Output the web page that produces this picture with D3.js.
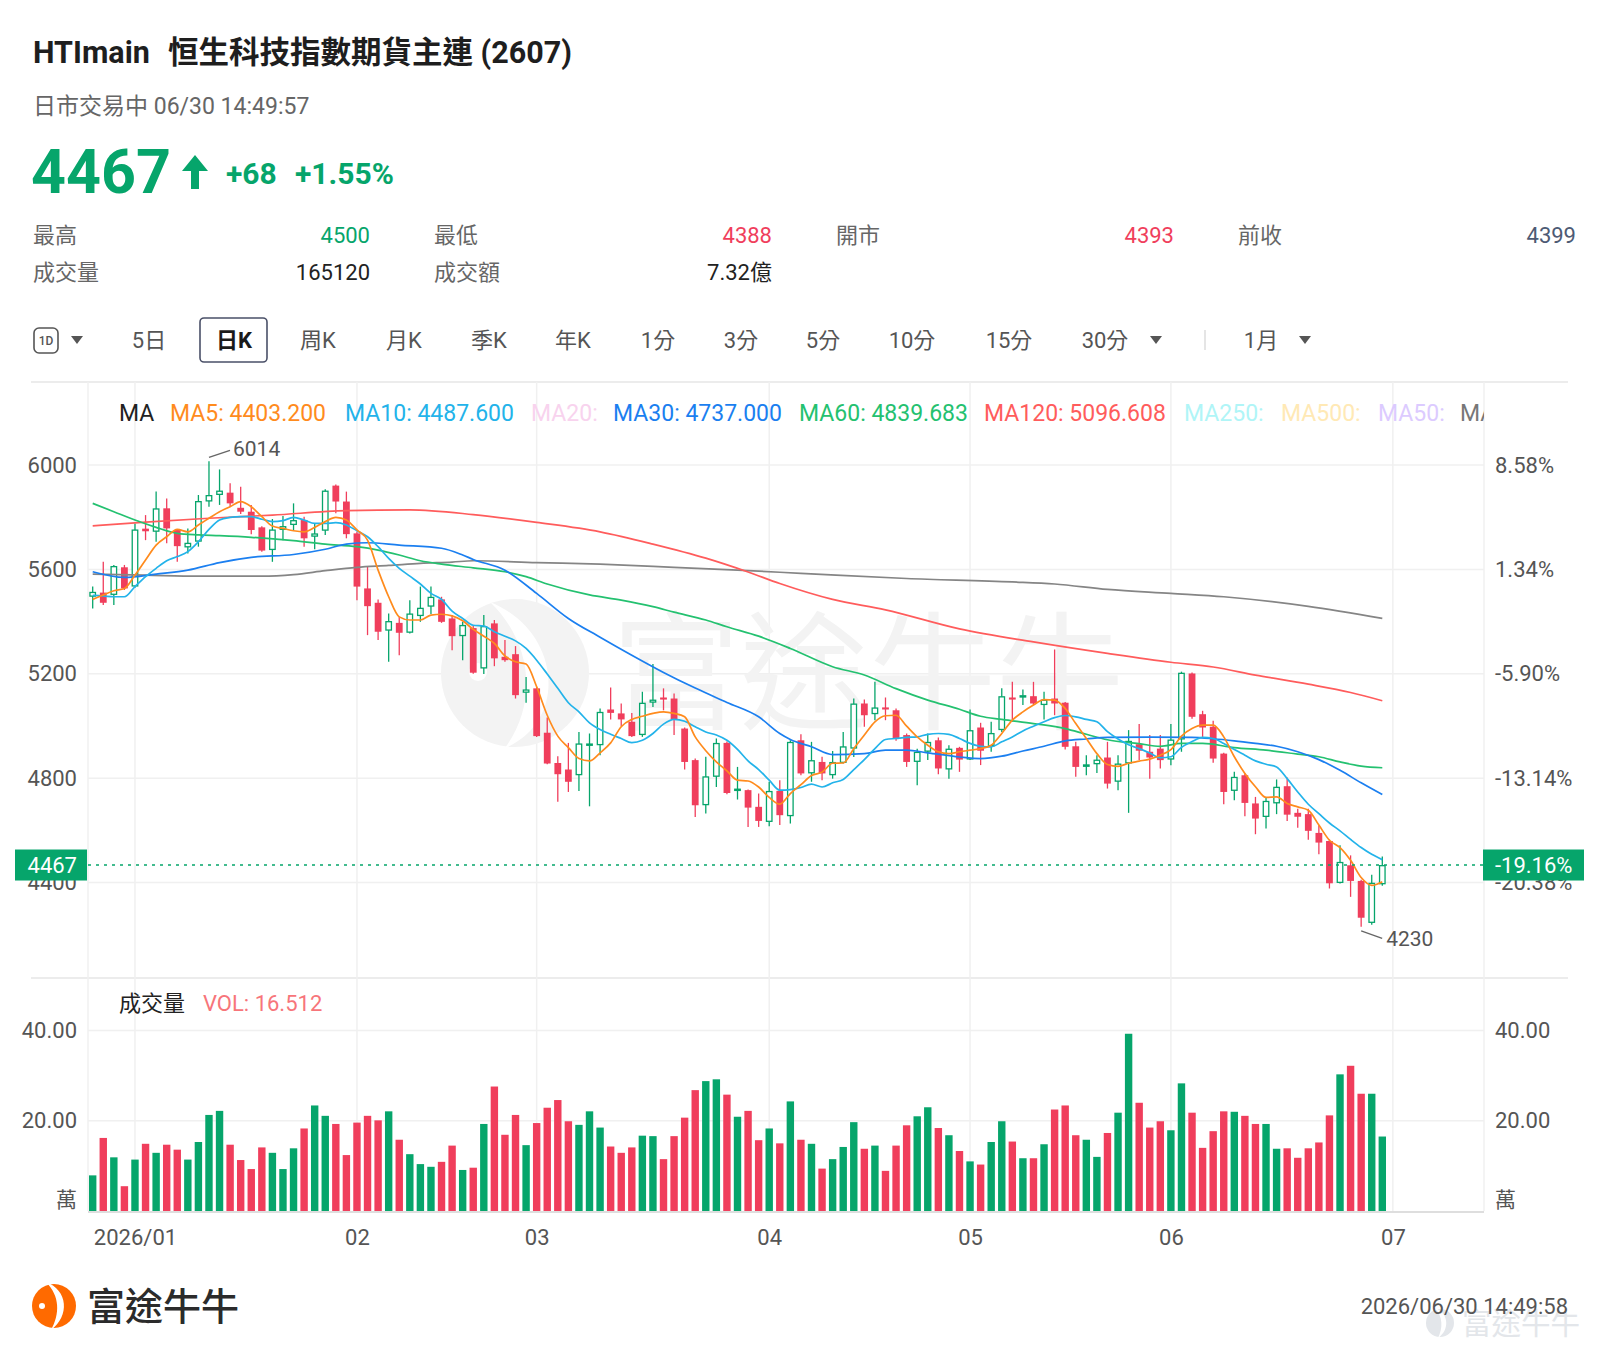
<!DOCTYPE html>
<html><head><meta charset="utf-8">
<script src="https://cdn.jsdelivr.net/npm/d3@7"></script>
<style>
html,body{margin:0;padding:0;background:#fff;}
svg{display:block;}
</style></head><body>
<svg id="c" width="1600" height="1358"></svg>
<script>
// ---------------- DATA ----------------
const monthIdx = [4, 25, 42, 64, 83, 102, 123];
const monthLabels = ["2026/01", "02", "03", "04", "05", "06", "07"];
const priceTicks = [4400, 4800, 5200, 5600, 6000];
const priceTickLabels = ["4400", "4800", "5200", "5600", "6000"];
const pctTickLabels = ["-20.38%", "-13.14%", "-5.90%", "1.34%", "8.58%"];
const volTicks = [20, 40];
const volTickLabels = ["20.00", "40.00"];

const opens = [5495,5511,5502,5608,5534,5756,5744,5834,5751,5684, 5706,5860,5885,5894,5836,5821,5761,5674,5751,5770,
 5789,5725,5748,5921,5860,5738,5527,5472,5365,5395, 5357,5421,5457,5485,5412,5344,5375,5220,5393,5265,
 5275,5127,5144,4974,4858,4833,4811,4925,4926,5063, 5048,5016,4965,5089,5109,5105,4990,4869,4696,4805,
 4935,4751,4754,4690,4632,4751,4654,4945,4818,4862, 4811,4858,4913,5086,5045,5071,5060,4965,4862,4901,
 4945,4833,4916,4871,4994,4922,4984,5109,5109,5114, 5080,5105,5089,4922,4843,4853,4879,4786,4856,4930,
 4901,4913,4871,4948,5201,5045,4997,4894,4751,4811, 4703,4651,4703,4769,4667,4662,4590,4559,4398,4466,
 4406,4245,4393];
const highs = [5534,5629,5617,5617,5776,5808,5898,5872,5755,5757, 5885,6014,5983,5930,5917,5847,5765,5793,5805,5853,
 5802,5776,5907,5925,5898,5744,5610,5485,5431,5418, 5482,5534,5534,5495,5425,5399,5385,5425,5406,5329,
 5306,5188,5150,5032,4884,4935,4977,4971,5067,5147, 5086,5050,5131,5237,5144,5124,4994,4875,4882,4952,
 4940,4843,4756,4741,4786,4792,4945,4968,4939,4882, 4904,4977,5105,5101,5169,5109,5067,4971,4913,4971,
 4956,4926,4920,5063,5012,5016,5144,5169,5140,5169, 5131,5293,5092,4939,4888,4888,4939,4888,4984,5007,
 4965,4965,5007,5208,5205,5058,5020,4897,4824,4820, 4728,4728,4795,4802,4683,4683,4619,4565,4543,4504,
 4411,4430,4500];
const lows = [5450,5463,5463,5521,5530,5712,5706,5700,5629,5661, 5687,5840,5847,5840,5812,5735,5668,5629,5712,5751,
 5687,5677,5732,5815,5719,5482,5348,5329,5246,5271, 5354,5399,5429,5395,5290,5252,5200,5199,5229,5246,
 5105,5089,4958,4853,4709,4747,4751,4692,4888,5025, 4999,4958,4958,5073,5060,4965,4833,4651,4664,4766,
 4738,4718,4613,4613,4616,4620,4626,4811,4786,4792, 4798,4856,4881,4997,5022,5022,4943,4843,4773,4869,
 4815,4798,4824,4869,4850,4901,4977,5016,5080,5080, 5025,5041,4910,4805,4811,4820,4760,4754,4667,4869,
 4798,4837,4849,4901,5028,4958,4859,4700,4715,4654, 4585,4607,4662,4636,4610,4564,4508,4377,4396,4345,
 4230,4238,4388];
const closes = [5514,5472,5613,5527,5753,5746,5834,5757,5689,5702, 5862,5885,5902,5853,5821,5751,5672,5753,5766,5789,
 5719,5738,5902,5860,5735,5534,5459,5361,5402,5357, 5431,5453,5495,5399,5344,5387,5204,5383,5259,5252,
 5118,5140,4961,4856,4815,4786,4933,4933,5054,5050, 5025,4961,5089,5101,5101,5025,4862,4696,4807,4935,
 4743,4760,4687,4636,4751,4658,4939,4818,4869,4818, 4862,4922,5086,5041,5071,5063,4952,4862,4901,4939,
 4837,4913,4871,4984,4905,4973,5114,5101,5118,5086, 5101,5086,4920,4843,4853,4871,4779,4856,4943,4905,
 4879,4869,4948,5204,5035,4994,4875,4747,4805,4705, 4645,4713,4767,4660,4652,4598,4553,4397,4479,4406,
 4265,4399,4467];
const volumes = [7.9,16.2,11.9,5.5,11.4,14.9,12.9,14.7,13.6,11.4, 15.3,21.3,22.2,14.7,11.3,9.3,14.1,12.9,9.3,13.9,
 18.3,23.4,21.1,19.3,12.4,19.6,21.1,20.1,22.1,15.8, 12.6,10.4,9.8,10.9,14.5,9.1,9.6,19.3,27.6,16.9,
 21.3,14.6,19.5,22.9,24.6,19.9,19.1,22.1,18.5,14.3, 12.9,14.1,16.7,16.6,11.5,16.6,20.7,26.8,28.8,29.2,
 25.8,20.9,22.2,15.7,18.3,15.0,24.3,15.8,14.9,9.4, 11.5,14.2,19.7,13.8,14.5,8.9,14.5,19.0,21.0,23.0,
 18.4,16.8,13.3,11.0,10.3,15.3,19.9,15.4,11.7,11.7, 14.8,22.5,23.4,16.8,15.8,12.0,17.3,21.8,39.3,24.0,
 18.5,19.9,17.9,28.3,21.8,14.0,17.7,22.1,22.0,21.1, 19.3,19.3,13.8,13.9,11.8,13.9,15.2,21.2,30.3,32.2,
 26.0,26.0,16.512];

const ma5 = [5485,5502,5518,5527,5578,5636,5693,5725,5753,5744, 5770,5796,5821,5840,5860,5840,5802,5766,5757,5748,
 5744,5761,5783,5799,5789,5751,5712,5597,5495,5418, 5406,5406,5425,5428,5422,5403,5370,5344,5316,5268,
 5246,5237,5150,5041,4961,4917,4875,4866,4897,4935, 4997,5025,5037,5048,5054,5048,5035,4958,4905,4862,
 4828,4792,4789,4766,4726,4700,4741,4775,4810,4823, 4857,4858,4913,4965,5016,5039,5041,4999,4958,4926,
 4901,4894,4901,4907,4913,4926,4971,5022,5054,5080, 5101,5099,5067,5009,4952,4894,4852,4845,4857,4865,
 4873,4888,4909,4961,4990,5003,5003,4958,4882,4818, 4767,4726,4728,4703,4690,4677,4620,4562,4534,4485,
 4419,4389,4403.2];
const ma10 = [5500,5498,5495,5495,5534,5572,5604,5633,5649,5668, 5706,5753,5789,5799,5802,5802,5792,5783,5787,5799,
 5789,5776,5776,5779,5770,5748,5725,5687,5642,5604, 5574,5544,5508,5485,5440,5412,5386,5383,5361,5344,
 5326,5297,5252,5199,5144,5089,5054,5012,4986,4968, 4952,4936,4945,4971,5007,5025,5018,4997,4977,4965,
 4945,4910,4866,4833,4792,4754,4756,4764,4777,4766, 4782,4795,4833,4871,4913,4948,4952,4956,4958,4968,
 4971,4968,4952,4933,4922,4920,4939,4958,4981,4999, 5016,5032,5040,5035,5025,5016,4978,4950,4928,4913,
 4896,4878,4882,4918,4940,4956,4952,4933,4910,4888, 4866,4853,4843,4798,4747,4700,4664,4628,4598,4565,
 4534,4508,4487.6];
const ma30Idx = [0,3,6,9,12,15,19,22,24,26,29,33,35,36,39,42,45,48,51,54,57,60,63,65,66,68,70,73,75,77,79,82,84,86,88,90,92,94,96,100,104,106,108,110,112,114,116,118,120,122];
const ma30Val = [5591,5569,5582,5597,5626,5646,5657,5677,5697,5702,5693,5681,5655,5638,5597,5508,5412,5340,5271,5205,5145,5090,5035,4971,4948,4920,4890,4894,4907,4907,4897,4881,4875,4884,4904,4922,4943,4950,4956,4957,4956,4951,4943,4933,4922,4901,4871,4830,4782,4737];
const ma60Idx = [0,2,4,6,8,10,12,15,19,22,25,27,29,31,33,36,39,41,43,47,50,53,55,58,60,63,66,70,73,76,79,82,84,86,89,92,94,96,99,101,103,105,108,111,114,116,118,120,122];
const ma60Val = [5853,5821,5789,5761,5738,5732,5729,5723,5710,5697,5687,5674,5655,5633,5620,5606,5591,5572,5544,5502,5482,5457,5436,5406,5380,5344,5297,5227,5195,5143,5099,5064,5037,5025,5009,4990,4968,4947,4932,4922,4933,4933,4917,4907,4892,4882,4862,4846,4839.683];
const ma120Idx = [0,5,11,17,24,30,36,42,48,53,58,62,65,70,75,82,89,96,102,106,110,115,119,122];
const ma120Val = [5767,5781,5796,5808,5825,5828,5810,5780,5744,5697,5643,5590,5546,5485,5445,5372,5322,5278,5244,5226,5195,5160,5128,5096.608];
const grayIdx = [0,5,10,16,19,22,25,28,31,34,36,42,48,55,61,67,77,87,91,96,102,107,115,122];
const grayVal = [5582,5578,5574,5574,5580,5595,5608,5615,5623,5628,5633,5626,5620,5608,5597,5585,5565,5552,5544,5523,5508,5495,5458,5412];

const legendNames = ["MA5: 4403.200", "MA10: 4487.600", "MA20:", "MA30: 4737.000", "MA60: 4839.683", "MA120: 5096.608", "MA250:", "MA500:", "MA50:", "MA"];
const statLabels = ["最高", "最低", "開市", "前收", "成交量", "成交額"];
const statValues = ["4500", "4388", "4393", "4399", "165120", "7.32億"];
const toolbarItems = ["5日", "日K", "周K", "月K", "季K", "年K", "1分", "3分", "5分", "10分", "15分", "30分", "1月"];

// ---------------- STYLE / LAYOUT ----------------
const FONT = 'Roboto, "Noto Sans CJK TC", "Noto Sans CJK SC", sans-serif';
const GREEN = "#06a56b", RED = "#f03e5c";
const C_MA5 = "#ff8b1d", C_MA10 = "#23b3ea", C_MA30 = "#1b7ff0", C_MA60 = "#24c170", C_MA120 = "#ff5c5c", C_GRAY = "#858585";
const PL = 88, PR = 1484, PT = 382, PB = 978, VB = 1211;

const svg = d3.select("#c").attr("font-family", FONT);
const x = d3.scaleLinear().domain([0, 122]).range([92.7, 1382.3]);
const y = d3.scaleLinear().domain([4400, 6000]).range([882.5, 465]);
const yv = d3.scaleLinear().domain([0, 40]).range([VB, 1030.6]);

function T(px, py, s, o = {}) {
  return svg.append("text").attr("x", px).attr("y", py).text(s)
    .attr("font-size", o.size || 22).attr("font-weight", o.weight || 400)
    .attr("fill", o.fill || "#333").attr("text-anchor", o.anchor || "start")
    .style("white-space", "pre");
}

// ---------------- HEADER ----------------
T(33, 63, "HTImain", {size: 30.5, weight: 700, fill: "#1e1e1e"});
T(168, 63, "恒生科技指數期貨主連 (2607)", {size: 30.5, weight: 700, fill: "#1e1e1e"});
T(33, 114, "日市交易中 06/30 14:49:57", {size: 23, fill: "#666"});
T(31, 193, "4467", {size: 61, weight: 700, fill: GREEN});
svg.append("path").attr("d", "M195,155 L208,171 L199,171 L199,189 L191,189 L191,171 L182,171 Z").attr("fill", GREEN);
T(226, 184, "+68", {size: 30, weight: 700, fill: GREEN});
T(295, 184, "+1.55%", {size: 30, weight: 700, fill: GREEN});

const statLX = [33, 434, 836, 1238, 33, 434];
const statVX = [370, 772, 1174, 1576, 370, 772];
const statY = [243, 243, 243, 243, 280, 280];
const statC = [GREEN, RED, RED, "#4d5a74", "#222", "#222"];
statLabels.forEach((s, i) => {
  T(statLX[i], statY[i], s, {size: 22, fill: "#666"});
  T(statVX[i], statY[i], statValues[i], {size: 22, fill: statC[i], anchor: "end"});
});

// toolbar
svg.append("rect").attr("x", 34).attr("y", 328).attr("width", 24).attr("height", 25).attr("rx", 5)
  .attr("fill", "none").attr("stroke", "#555").attr("stroke-width", 1.6);
T(46, 345, "1D", {size: 12, weight: 500, fill: "#555", anchor: "middle"});
const tri = (cx) => svg.append("path").attr("d", `M${cx-6},${336} L${cx+6},${336} L${cx},${344} Z`).attr("fill", "#555");
tri(77);
const tbX = [149, 234, 318, 404, 489, 573, 658, 741, 823, 912, 1009, 1105, 1261];
svg.append("rect").attr("x", 200).attr("y", 318).attr("width", 67).attr("height", 44).attr("rx", 4)
  .attr("fill", "none").attr("stroke", "#4a5068").attr("stroke-width", 1.6);
toolbarItems.forEach((s, i) => {
  T(tbX[i], 348, s, {size: 22, weight: i === 1 ? 700 : 400, fill: i === 1 ? "#1a1a1a" : "#555", anchor: "middle"});
});
tri(1156); tri(1305);
svg.append("line").attr("x1", 1205).attr("x2", 1205).attr("y1", 330).attr("y2", 350).attr("stroke", "#ddd").attr("stroke-width", 1.5);

// separators
[PT, PB].forEach(v => svg.append("line").attr("x1", 31).attr("x2", 1568).attr("y1", v).attr("y2", v).attr("stroke", "#ececec").attr("stroke-width", 2));

// ---------------- GRID ----------------
const grid = svg.append("g").attr("stroke", "#f0f0f0").attr("stroke-width", 1.5);
priceTicks.forEach(v => grid.append("line").attr("x1", PL).attr("x2", PR).attr("y1", y(v)).attr("y2", y(v)));
volTicks.forEach(v => grid.append("line").attr("x1", PL).attr("x2", PR).attr("y1", yv(v)).attr("y2", yv(v)));
monthIdx.forEach(i => grid.append("line").attr("x1", x(i)).attr("x2", x(i)).attr("y1", PT).attr("y2", VB));
[PL, PR].forEach(v => grid.append("line").attr("x1", v).attr("x2", v).attr("y1", PT).attr("y2", VB));

// ---------------- WATERMARK ----------------
const wm = svg.append("g").attr("fill", "#f3f3f3");
wm.append("circle").attr("cx", 515).attr("cy", 673).attr("r", 74);
wm.append("path").attr("d", "M490,602 C560,630 570,720 505,748 C540,700 530,640 490,602 Z").attr("fill", "#fff");
wm.append("circle").attr("cx", 478).attr("cy", 672).attr("r", 9).attr("fill", "#fff");
svg.append("text").attr("x", 612).attr("y", 720).text("富途牛牛").attr("font-size", 128).attr("fill", "#f3f3f3");

// ---------------- MA LEGEND ----------------
svg.append("clipPath").attr("id", "lgclip").append("rect").attr("x", 0).attr("y", 380).attr("width", PR).attr("height", 60);
const lg = svg.append("g").attr("clip-path", "url(#lgclip)");
lg.append("text").attr("x", 119).attr("y", 421).text("MA").attr("font-size", 23).attr("fill", "#222");
const lgX = [170, 345, 531, 613, 799, 984, 1184, 1281, 1378, 1460];
const lgC = [C_MA5, C_MA10, "#f8d3ee", C_MA30, C_MA60, C_MA120, "#b0f5f7", "#ffe9b5", "#dccbff", "#777"];
legendNames.forEach((s, i) => lg.append("text").attr("x", lgX[i]).attr("y", 421).text(s).attr("font-size", 23).attr("fill", lgC[i]));

// ---------------- CANDLES ----------------
svg.append("clipPath").attr("id", "pclip").append("rect").attr("x", PL).attr("y", PT).attr("width", PR - PL).attr("height", PB - PT);
const plot = svg.append("g").attr("clip-path", "url(#pclip)");
const idx = d3.range(opens.length);
const up = i => closes[i] >= opens[i];
const cg = plot.append("g");
cg.selectAll("line.w").data(idx).join("line")
  .attr("x1", i => x(i)).attr("x2", i => x(i)).attr("y1", i => y(highs[i])).attr("y2", i => y(lows[i]))
  .attr("stroke", i => up(i) ? GREEN : RED).attr("stroke-width", 1.3);
const BW = 6.8;
cg.selectAll("rect.b").data(idx).join("rect")
  .attr("x", i => x(i) - BW / 2 + (up(i) ? 0.65 : 0))
  .attr("width", i => up(i) ? BW - 1.3 : BW)
  .attr("y", i => y(Math.max(opens[i], closes[i])) + (up(i) ? 0.65 : 0))
  .attr("height", i => Math.max(1.2, Math.abs(y(opens[i]) - y(closes[i])) - (up(i) ? 1.3 : 0)))
  .attr("fill", i => up(i) ? "#fff" : RED)
  .attr("stroke", i => up(i) ? GREEN : "none").attr("stroke-width", 1.3);

// ---------------- MA LINES ----------------
const line = d3.line().x(d => x(d[0])).y(d => y(d[1])).curve(d3.curveMonotoneX);
const pairs = (ix, vals) => ix.map((v, k) => [v, vals[k]]);
const series = [
  [pairs(grayIdx, grayVal), C_GRAY],
  [pairs(ma120Idx, ma120Val), C_MA120],
  [pairs(ma60Idx, ma60Val), C_MA60],
  [pairs(ma30Idx, ma30Val), C_MA30],
  [ma10.map((v, i) => [i, v]), C_MA10],
  [ma5.map((v, i) => [i, v]), C_MA5]
];
series.forEach(([d, c]) => plot.append("path").attr("d", line(d)).attr("fill", "none").attr("stroke", c).attr("stroke-width", 1.7));

// current price line
const lastC = closes[closes.length - 1];
svg.append("line").attr("x1", PL).attr("x2", PR).attr("y1", y(lastC)).attr("y2", y(lastC))
  .attr("stroke", GREEN).attr("stroke-width", 1.6).attr("stroke-dasharray", "3,5");

// annotations (max / min)
const iMax = d3.maxIndex(highs), iMin = d3.minIndex(lows);
const ax = x(iMax), ay = y(highs[iMax]) - 4;
svg.append("line").attr("x1", ax).attr("y1", ay).attr("x2", ax + 21).attr("y2", ay - 7).attr("stroke", "#666").attr("stroke-width", 1.3);
T(ax + 24, ay - 1, String(highs[iMax]), {size: 21, fill: "#555"});
const bx = x(iMin), by = y(lows[iMin]) + 4;
svg.append("line").attr("x1", bx).attr("y1", by).attr("x2", bx + 21).attr("y2", by + 7.5).attr("stroke", "#666").attr("stroke-width", 1.3);
T(bx + 25, by + 15, String(lows[iMin]), {size: 21, fill: "#555"});

// ---------------- AXES ----------------
function styleAxis(g, anchor) {
  g.select(".domain").remove();
  g.selectAll(".tick line").remove();
  g.attr("font-family", FONT);
  g.selectAll("text").attr("font-size", 22).attr("fill", "#555");
  if (anchor) g.selectAll("text").attr("text-anchor", anchor);
}
styleAxis(svg.append("g").attr("transform", `translate(${PL},0)`)
  .call(d3.axisLeft(y).tickValues(priceTicks).tickFormat((d, i) => priceTickLabels[i]).tickSize(0).tickPadding(11)));
styleAxis(svg.append("g").attr("transform", `translate(${PR},0)`)
  .call(d3.axisRight(y).tickValues(priceTicks).tickFormat((d, i) => pctTickLabels[i]).tickSize(0).tickPadding(11)));
styleAxis(svg.append("g").attr("transform", `translate(${PL},0)`)
  .call(d3.axisLeft(yv).tickValues(volTicks).tickFormat((d, i) => volTickLabels[i]).tickSize(0).tickPadding(11)));
styleAxis(svg.append("g").attr("transform", `translate(${PR},0)`)
  .call(d3.axisRight(yv).tickValues(volTicks).tickFormat((d, i) => volTickLabels[i]).tickSize(0).tickPadding(11)));
styleAxis(svg.append("g").attr("transform", `translate(0,${VB})`)
  .call(d3.axisBottom(x).tickValues(monthIdx).tickFormat((d, i) => monthLabels[i]).tickSize(0).tickPadding(18)));
T(77, 1207, "萬", {size: 21, fill: "#555", anchor: "end"});
T(1495, 1207, "萬", {size: 21, fill: "#555"});

// price tags
svg.append("rect").attr("x", 15).attr("y", y(lastC) - 15.5).attr("width", 72).attr("height", 31).attr("fill", GREEN);
T(77, y(lastC) + 8, String(lastC), {size: 22, fill: "#fff", anchor: "end"});
svg.append("rect").attr("x", 1483).attr("y", y(lastC) - 15.5).attr("width", 101).attr("height", 31).attr("fill", GREEN);
T(1495, y(lastC) + 8, "-19.16%", {size: 22, fill: "#fff"});

// ---------------- VOLUME ----------------
T(119, 1011, "成交量", {size: 22, fill: "#222"});
T(203, 1011, "VOL: 16.512", {size: 22, fill: "#f7757a"});
svg.append("g").selectAll("rect").data(idx).join("rect")
  .attr("x", i => x(i) - 3.7).attr("width", 7.4)
  .attr("y", i => yv(volumes[i])).attr("height", i => VB - yv(volumes[i]))
  .attr("fill", i => up(i) ? GREEN : RED);
svg.append("line").attr("x1", PL).attr("x2", PR).attr("y1", VB + 1).attr("y2", VB + 1).attr("stroke", "#dedede").attr("stroke-width", 2);

// ---------------- FOOTER ----------------
const lgo = svg.append("g").attr("transform", "translate(54,1306)");
lgo.append("circle").attr("r", 22).attr("fill", "#ff6a00");
lgo.append("path").attr("d", "M-8,-24 C14,-16 16,10 -3,24 C6,8 6,-10 -8,-24 Z").attr("fill", "#fff");
lgo.append("circle").attr("cx", -12).attr("cy", 0).attr("r", 3).attr("fill", "#fff");
T(87, 1320, "富途牛牛", {size: 38, weight: 500, fill: "#2b2b2b"});
const wlg = svg.append("g").attr("transform", "translate(1440,1323)");
wlg.append("circle").attr("r", 14).attr("fill", "#e3e6ea");
wlg.append("path").attr("d", "M-5,-15 C9,-10 10,7 -2,15 C3,5 3,-6 -5,-15 Z").attr("fill", "#fff");
T(1462, 1334, "富途牛牛", {size: 29.5, fill: "#e3e6ea"});
T(1568, 1314, "2026/06/30 14:49:58", {size: 22, fill: "#555", anchor: "end"});
</script>
</body></html>
